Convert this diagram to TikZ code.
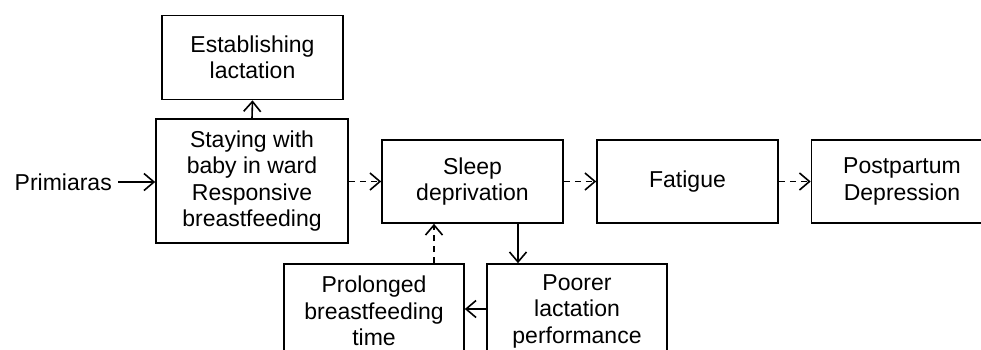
\documentclass[tikz,border=0pt]{standalone}
\usepackage{fontspec}
\setmainfont{Liberation Sans}
\usetikzlibrary{arrows.meta}
\begin{document}
\begin{tikzpicture}[x=1pt,y=-1pt,
  box/.style={draw, line width=1.6pt, align=center, inner sep=0pt,
    font=\fontsize{23}{26.5}\selectfont, minimum width=181pt, minimum height=83pt},
  lbl/.style={inner sep=0pt, font=\fontsize{23}{26.5}\selectfont},
  arr/.style={line width=1.6pt, -{Straight Barb[length=10pt,width=17pt,line width=1.6pt]}},
  darr/.style={arr, dash pattern=on 6pt off 5pt}]
\useasboundingbox (0,0) rectangle (981,349);
\clip (0,0) rectangle (981,349);
\fill[white] (0,0) rectangle (981,349);
\node[box, minimum height=84pt] (est) at (252.5,57.5) {Establishing\\lactation};
\node[box, minimum width=192pt, minimum height=124pt] (stay) at (252,181) {Staying with\\baby in ward\\Responsive\\breastfeeding};
\node[lbl, anchor=east] (prim) at (112,182) {Primiaras};
\node[box] (sleep) at (472.5,181.5) {Sleep\\deprivation};
\node[box] (fat) at (687.5,181.5) {Fatigue};
\node[box] (ppd) at (902,181.5) {Postpartum\\Depression};
\node[box, minimum width=180pt, minimum height=94pt] (prol) at (374,311) {Prolonged\\breastfeeding\\time};
\node[box, minimum width=180pt, minimum height=94pt] (poor) at (577,311) {Poorer\\lactation\\performance};
\coordinate (dx) at (434,0);
\coordinate (sx) at (518,0);
\draw[arr, shorten <=6pt] (prim.east) -- (stay.west |- prim.east);
\draw[arr] (stay.north) -- (est.south);
\draw[darr] (stay.east |- sleep.west) -- (sleep.west);
\draw[darr] (sleep.east) -- (fat.west);
\draw[darr] (fat.east) -- (ppd.west);
\draw[arr] (sleep.south -| sx) -- (poor.north -| sx);
\draw[arr] (poor.west |- 0,309) -- (prol.east |- 0,309);
\draw[darr] (prol.north -| dx) -- (sleep.south -| dx);
\end{tikzpicture}
\end{document}
